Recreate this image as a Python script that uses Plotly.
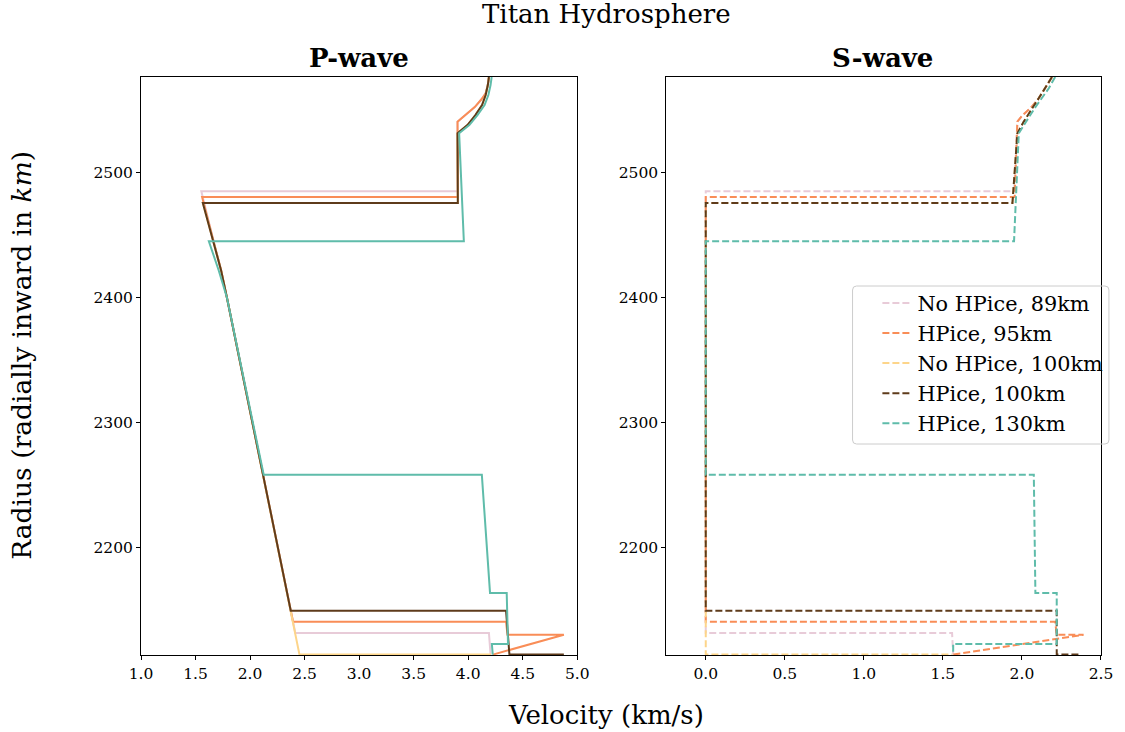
import plotly.graph_objects as go

# ---------------- data (velocity km/s, radius km) ----------------
labels = ["No HPice, 89km", "HPice, 95km", "No HPice, 100km", "HPice, 100km", "HPice, 130km"]
colors = ["#e8cbd8", "#f98d57", "#fdd58a", "#5e3b1b", "#5fbcaa"]

# P-wave profiles
p_r_89 = [2576, 2569.6, 2563, 2558, 2552, 2546.5, 2540.3, 2484.8, 2484.8, 2445, 2421.6, 2400, 2300, 2258, 2200, 2149.6, 2131.8, 2131.8, 2114.5]
p_v_89 = [4.19, 4.18, 4.16, 4.12, 4.06, 3.99, 3.902, 3.905, 1.553, 1.665, 1.734, 1.787, 2.022, 2.12, 2.255, 2.373, 2.415, 4.19, 4.205]

p_r_95 = [2576, 2569.6, 2563, 2558, 2552, 2546.5, 2540.3, 2480.2, 2480.2, 2445, 2421.6, 2400, 2300, 2258, 2200, 2149.6, 2140.8, 2140.8, 2130.4, 2130.4, 2114.5]
p_v_95 = [4.19, 4.18, 4.16, 4.12, 4.06, 3.99, 3.902, 3.905, 1.56, 1.665, 1.734, 1.787, 2.022, 2.12, 2.255, 2.373, 2.394, 4.347, 4.36, 4.877, 4.225]

p_r_100n = [2576, 2569.6, 2561.6, 2553.6, 2545.6, 2537.6, 2531, 2475.4, 2475.4, 2445, 2421.6, 2400, 2300, 2258, 2200, 2149.6, 2114.5, 2114.5]
p_v_100n = [4.19, 4.18, 4.16, 4.127, 4.066, 3.993, 3.902, 3.905, 1.567, 1.665, 1.734, 1.787, 2.022, 2.12, 2.255, 2.373, 2.453, 4.21]

p_r_100h = [2576, 2569.6, 2561.6, 2553.6, 2545.6, 2537.6, 2531, 2475.4, 2475.4, 2445, 2421.6, 2400, 2300, 2258, 2200, 2149.6, 2149.6, 2114.5, 2114.5]
p_v_100h = [4.19, 4.18, 4.16, 4.127, 4.066, 3.993, 3.902, 3.905, 1.567, 1.665, 1.734, 1.787, 2.022, 2.12, 2.255, 2.373, 4.347, 4.378, 4.877]

p_r_130 = [2576, 2569.6, 2561.6, 2553.6, 2545.6, 2537.6, 2531, 2444.8, 2444.8, 2421.6, 2400, 2300, 2258.2, 2258.2, 2163.8, 2163.8, 2123, 2123, 2114.5]
p_v_130 = [4.215, 4.205, 4.185, 4.15, 4.085, 4.01, 3.917, 3.96, 1.622, 1.712, 1.787, 2.022, 2.125, 4.125, 4.20, 4.353, 4.365, 4.217, 4.225]

# S-wave profiles
s_r_89 = [2576, 2567, 2559, 2552, 2545, 2540.3, 2484.8, 2484.8, 2131.8, 2131.8, 2114.5]
s_v_89 = [2.19, 2.148, 2.106, 2.06, 2.0, 1.971, 1.95, 0.0, 0.0, 1.558, 1.565]

s_r_95 = [2576, 2567, 2559, 2552, 2545, 2540.3, 2480.2, 2480.2, 2140.8, 2140.8, 2130.4, 2130.4, 2114.5]
s_v_95 = [2.19, 2.148, 2.106, 2.06, 2.0, 1.971, 1.954, 0.0, 0.0, 2.21, 2.22, 2.39, 1.565]

s_r_100n = [2576, 2567, 2559, 2551, 2540, 2531, 2475.4, 2475.4, 2114.5, 2114.5]
s_v_100n = [2.19, 2.148, 2.106, 2.065, 2.01, 1.971, 1.94, 0.0, 0.0, 1.56]

s_r_100h = [2576, 2567, 2559, 2551, 2540, 2531, 2475.4, 2475.4, 2149.6, 2149.6, 2114.5, 2114.5]
s_v_100h = [2.19, 2.148, 2.106, 2.065, 2.01, 1.971, 1.94, 0.0, 0.0, 2.22, 2.22, 2.375]

s_r_130 = [2576, 2567, 2559, 2551, 2540, 2531, 2444.8, 2444.8, 2258.2, 2258.2, 2163.8, 2163.8, 2123, 2123, 2114.5]
s_v_130 = [2.21, 2.17, 2.125, 2.08, 2.025, 1.98, 1.95, 0.0, 0.0, 2.075, 2.085, 2.22, 2.22, 1.565, 1.565]

p_profiles = [(p_v_89, p_r_89), (p_v_95, p_r_95), (p_v_100n, p_r_100n), (p_v_100h, p_r_100h), (p_v_130, p_r_130)]
s_profiles = [(s_v_89, s_r_89), (s_v_95, s_r_95), (s_v_100n, s_r_100n), (s_v_100h, s_r_100h), (s_v_130, s_r_130)]

x_ticks_p = [1.0, 1.5, 2.0, 2.5, 3.0, 3.5, 4.0, 4.5, 5.0]
x_ticks_s = [0.0, 0.5, 1.0, 1.5, 2.0, 2.5]
y_ticks = [2200, 2300, 2400, 2500]

# ---------------- figure ----------------
FONT = "DejaVu Serif"
W, H = 1125, 732
L, R, T, B = 141, 1107, 77, 655
pw, ph = R - L, B - T

def px(x):
    return (x - L) / pw

def py(y):
    return (B - y) / ph

fig = go.Figure()
for i in range(5):
    v, r = p_profiles[i]
    fig.add_trace(go.Scatter(x=v, y=r, mode="lines", xaxis="x", yaxis="y",
                             line=dict(color=colors[i], width=2),
                             name=labels[i], legendgroup=labels[i], showlegend=False))
for i in range(5):
    v, r = s_profiles[i]
    fig.add_trace(go.Scatter(x=v, y=r, mode="lines", xaxis="x2", yaxis="y2",
                             line=dict(color=colors[i], width=2, dash="7px,3px"),
                             name=labels[i], legendgroup=labels[i], showlegend=True))

axis_common = dict(showgrid=False, zeroline=False, showline=True, linecolor="black",
                   linewidth=1, mirror=True, ticks="outside", ticklen=4, tickwidth=1,
                   tickcolor="black", tickfont=dict(family=FONT, size=15.5, color="black"))

# legend frame (rounded box) drawn as a shape
bx0, bx1, by0, by1, rad = 857, 1115, 286, 444, 4
rx, ry = rad / pw, rad / ph
X0, X1, Y0, Y1 = px(bx0), px(bx1), py(by1), py(by0)
box_path = (f"M{X0 + rx},{Y0} L{X1 - rx},{Y0} Q{X1},{Y0} {X1},{Y0 + ry} "
            f"L{X1},{Y1 - ry} Q{X1},{Y1} {X1 - rx},{Y1} L{X0 + rx},{Y1} "
            f"Q{X0},{Y1} {X0},{Y1 - ry} L{X0},{Y0 + ry} Q{X0},{Y0} {X0 + rx},{Y0} Z")

fig.update_layout(
    width=W, height=H,
    margin=dict(l=L, r=W - R, t=T, b=H - B),
    paper_bgcolor="white", plot_bgcolor="white",
    xaxis=dict(domain=[0, px(580)], range=[1.0, 5.0], tickvals=x_ticks_p,
               ticktext=[f"{t:.1f}" for t in x_ticks_p], anchor="y", **axis_common),
    yaxis=dict(domain=[0, 1], range=[2114.2, 2576], tickvals=y_ticks, anchor="x", **axis_common),
    xaxis2=dict(domain=[px(669.5), 1], range=[-0.25, 2.5], tickvals=x_ticks_s,
                ticktext=[f"{t:.1f}" for t in x_ticks_s], anchor="y2", **axis_common),
    yaxis2=dict(domain=[0, 1], range=[2114.2, 2576], tickvals=y_ticks, anchor="x2", **axis_common),
    legend=dict(x=px(882), y=py(283), xanchor="left", yanchor="top",
                bgcolor="rgba(0,0,0,0)", borderwidth=0,
                font=dict(family=FONT, size=20.8, color="black"), tracegroupgap=0),
    showlegend=True,
    shapes=[dict(type="path", path=box_path, xref="paper", yref="paper",
                 line=dict(color="#cccccc", width=1), fillcolor="rgba(255,255,255,0)",
                 layer="above")],
)

annotations = [
    dict(text="Titan Hydrosphere", x=px(609), y=py(14), font=dict(family=FONT, size=26, color="black")),
    dict(text="<b>P-wave</b>", x=px(360.5), y=py(58), font=dict(family=FONT, size=26, color="black")),
    dict(text="<b>S-wave</b>", x=px(887.5), y=py(58), font=dict(family=FONT, size=26, color="black")),
    dict(text="Velocity (km/s)", x=px(609), y=py(715), font=dict(family=FONT, size=26, color="black")),
    dict(text="Radius (radially inward in <i>km</i>)", x=px(20), y=py(355), textangle=-90,
         font=dict(family=FONT, size=26.5, color="black")),
]
for a in annotations:
    a.update(xref="paper", yref="paper", showarrow=False, xanchor="center", yanchor="middle")
fig.update_layout(annotations=annotations)

fig.write_html("out.html")
